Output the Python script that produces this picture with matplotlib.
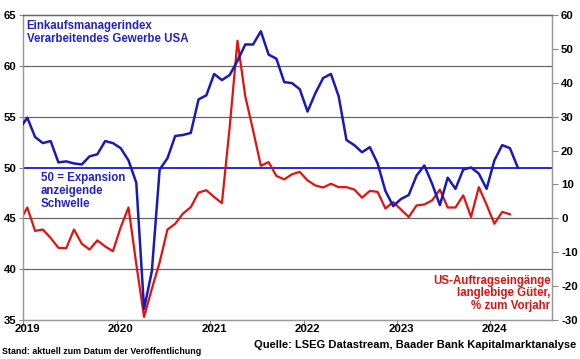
import numpy as np
import pandas as pd
import matplotlib
matplotlib.use('Agg')
import matplotlib.pyplot as plt

plt.rcParams['font.family'] = ['Liberation Sans', 'DejaVu Sans']
plt.rcParams['font.weight'] = 'bold'
plt.rcParams['axes.unicode_minus'] = False

# monthly data, Dec 2018 .. Apr 2024
months = pd.date_range('2018-12-01', '2024-04-01', freq='MS')

pmi = [53.8,
       54.9, 53.0, 52.4, 52.6, 50.5, 50.6, 50.4, 50.3, 51.1, 51.3, 52.6, 52.4,
       51.9, 50.7, 48.5, 36.1, 39.8, 49.8, 50.9, 53.1, 53.2, 53.4, 56.7, 57.1,
       59.2, 58.6, 59.1, 60.5, 62.1, 62.1, 63.4, 61.1, 60.7, 58.4, 58.3, 57.7,
       55.5, 57.3, 58.8, 59.2, 57.0, 52.7, 52.2, 51.5, 52.0, 50.4, 47.7, 46.2,
       46.9, 47.3, 49.2, 50.2, 48.4, 46.3, 49.0, 47.9, 49.8, 50.0, 49.4, 47.9,
       50.7, 52.2, 51.9, 50.0]

durables = [-1.0,
            3.2, -3.7, -3.3, -5.8, -8.7, -8.8, -3.3, -7.5, -9.2, -6.5, -8.3, -9.7,
            -2.6, 3.2, -13.5, -29.1, -20.8, -13.0, -3.3, -1.6, 1.4, 3.3, 7.6, 8.3,
            6.3, 4.5, 27.0, 52.4, 36.0, 26.0, 15.5, 16.6, 12.5, 11.5, 13.0, 13.7,
            11.2, 9.7, 9.1, 10.2, 9.2, 9.2, 8.5, 6.1, 8.1, 7.8, 2.9, 4.8,
            2.6, 0.4, 3.8, 4.1, 5.3, 8.5, 3.2, 3.2, 6.8, 0.4, 9.2, 4.0,
            -1.6, 1.9, 1.2]

years = [2019, 2020, 2021, 2022, 2023, 2024]

# month index, Jan 2019 = 0
x = (months.year - 2019) * 12 + months.month - 1
x_pmi = x[:len(pmi)]
x_dur = x[:len(durables)]

blue = '#1a1ab4'
red = '#e3120f'
grid_col = '#666666'

fig = plt.figure(figsize=(5.8, 3.59), dpi=100)
ax = fig.add_axes([23.4 / 580, 1 - 320 / 359, 528.6 / 580, 305 / 359])
ax2 = ax.twinx()

ax.set_xlim(-0.5, 67.4)
ax.set_ylim(35, 65)
ax2.set_ylim(-30, 60)

ax.set_yticks([35, 40, 45, 50, 55, 60, 65])
ax2.set_yticks(range(-30, 61, 10))
for v in [40, 45, 55, 60]:
    ax.axhline(v, color=grid_col, lw=0.9, zorder=0)
ax.axhline(50, color='#1515dd', lw=1.3, zorder=1)

ax2.plot(x_dur, durables, color=red, lw=1.6, zorder=2)
ax2.plot(x_pmi, pmi, color=blue, lw=1.8, zorder=3, transform=ax.transData)

ax.set_xticks([12 * i - 0.5 for i in range(len(years))])
ax.set_xticklabels([])
ax.set_xticks([12 * i for i in range(len(years))], minor=True)
ax.set_xticklabels([str(y) for y in years], minor=True)
ax.tick_params(axis='x', which='major', length=4, color='#888888', direction='out')
ax.tick_params(axis='x', which='minor', length=0, pad=3, labelsize=8.2)
ax.tick_params(axis='y', length=3, color='#888888', pad=2, labelsize=8.2)
ax2.tick_params(axis='y', length=4, color='#888888', pad=2.5, labelsize=8.2)

for a in (ax, ax2):
    for s in ['left', 'right', 'bottom']:
        a.spines[s].set_color('#999999')
        a.spines[s].set_linewidth(0.9)
    a.spines['top'].set_color(grid_col)
    a.spines['top'].set_linewidth(0.9)

ax.text(0.006, 0.985, 'Einkaufsmanagerindex\nVerarbeitendes Gewerbe USA',
        transform=ax.transAxes, ha='left', va='top', color='#2222cc',
        fontsize=8.3, fontweight='bold', linespacing=1.15)
ax.text(0.033, 0.485, '50 = Expansion\nanzeigende\nSchwelle',
        transform=ax.transAxes, ha='left', va='top', color='#2222cc',
        fontsize=8.3, fontweight='bold', linespacing=1.1)
ax.text(0.997, 0.025, 'US-Auftragseingänge\nlanglebige Güter,\n% zum Vorjahr',
        transform=ax.transAxes, ha='right', va='bottom', color=red,
        fontsize=8.3, fontweight='bold', linespacing=1.1, multialignment='right')

fig.text(2 / 580, 1 - 352 / 359, 'Stand: aktuell zum Datum der Veröffentlichung',
         ha='left', va='center', fontsize=6.4, fontweight='bold')
fig.text(576 / 580, 1 - 345 / 359, 'Quelle: LSEG Datastream, Baader Bank Kapitalmarktanalyse',
         ha='right', va='center', fontsize=8, fontweight='bold')

fig.savefig('out.png', dpi=100)
